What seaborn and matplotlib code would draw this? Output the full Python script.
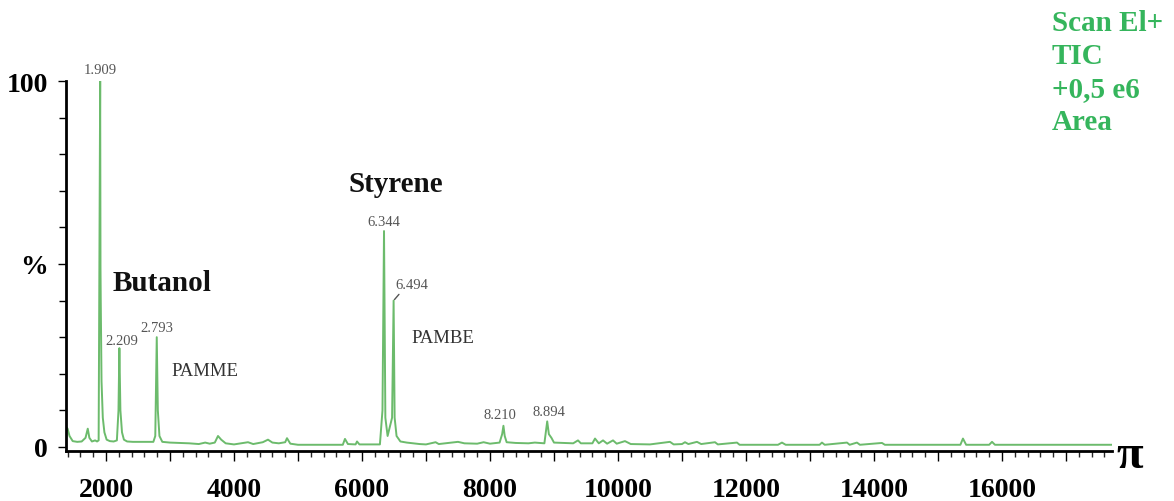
import matplotlib
matplotlib.use("Agg")
import matplotlib.pyplot as plt
from matplotlib.ticker import MultipleLocator, FixedLocator, FuncFormatter
import numpy as np
import pandas as pd
import seaborn as sns

# Total ion chromatogram: retention time (scan axis) and relative abundance, %
scan_times = [
    1375, 1400, 1430, 1480, 1550, 1620, 1680, 1715, 1740, 1780, 1830, 1860, 1885,
    1909, 1914, 1918, 1930, 1950, 1975, 2010, 2060, 2120, 2170, 2195,
    2209, 2225, 2250, 2280, 2330, 2420, 2600, 2740, 2770,
    2793, 2810, 2835, 2880, 3000, 3300, 3450, 3550, 3620, 3700, 3750, 3800,
    3870, 4000, 4219, 4300, 4450, 4531, 4600, 4700, 4800, 4828, 4880, 5000,
    5700, 5734, 5780, 5900, 5922, 5960, 6280, 6320,
    6344, 6365, 6400, 6470, 6494, 6510, 6540, 6600, 6700, 6900, 7000, 7150,
    7200, 7500, 7600, 7800, 7900, 8000, 8150, 8190,
    8210, 8230, 8260, 8400, 8600, 8700, 8850, 8880,
    8894, 8920, 8960, 9000, 9150, 9300, 9375, 9420, 9600, 9641, 9700, 9766,
    9830, 9922, 9980, 10109, 10200, 10500, 10812, 10870, 11000, 11047, 11100,
    11234, 11300, 11516, 11560, 11859, 11900, 12500, 12562, 12620, 13150,
    13187, 13230, 13578, 13620, 13734, 13780, 14125, 14170, 15350, 15390,
    15440, 15800, 15844, 15890, 17719,
]
abundance = [
    5.5, 5.0, 3.0, 1.6, 1.4, 1.5, 2.5, 5.0, 2.5, 1.5, 1.8, 1.5, 1.8,
    100.0, 49.0, 40.0, 18.0, 8.0, 4.0, 2.0, 1.6, 1.5, 1.8, 10.0,
    27.0, 10.0, 4.0, 2.0, 1.5, 1.4, 1.4, 1.4, 3.0,
    30.0, 10.0, 3.0, 1.4, 1.2, 1.0, 0.8, 1.2, 0.9, 1.2, 3.0, 2.0,
    1.0, 0.7, 1.3, 0.8, 1.3, 2.0, 1.2, 1.0, 1.3, 2.4, 0.9, 0.6,
    0.6, 2.2, 0.8, 0.7, 1.5, 0.7, 0.7, 10.0,
    59.0, 8.0, 3.0, 8.0, 40.0, 8.0, 3.0, 1.5, 1.2, 0.8, 0.7, 1.3,
    0.8, 1.4, 1.0, 0.9, 1.3, 0.9, 1.2, 3.5,
    5.8, 3.0, 1.3, 1.1, 1.0, 1.2, 1.0, 5.0,
    7.0, 3.5, 2.5, 1.2, 1.1, 1.0, 1.8, 1.0, 1.0, 2.3, 1.0, 1.8,
    0.9, 1.8, 0.9, 1.6, 0.8, 0.7, 1.4, 0.7, 0.8, 1.3, 0.8,
    1.4, 0.8, 1.3, 0.7, 1.2, 0.6, 0.6, 1.2, 0.6, 0.6,
    1.2, 0.6, 1.2, 0.6, 1.2, 0.6, 1.1, 0.6, 0.6, 2.3,
    0.6, 0.6, 1.4, 0.6, 0.6,
]

# Labelled peaks (retention times)
peak_times = [1909, 2209, 2793, 6344, 6494, 8210, 8894]
# label offsets in pixels (dx, dy) from the peak apex
peak_offsets = [(0, 12), (2, 8), (0, 10), (0, 10), (18, 16), (-3, 11), (2, 10)]

# Compound names: text, x, y (data units)
compound_names = ["Butanol", "Styrene"]
compound_x = [2880, 6530]
compound_y = [45, 72]
fraction_names = ["PAMME", "PAMBE"]
fraction_x = [3550, 7270]
fraction_y = [21, 30]

x_tick_labels = [2000, 4000, 6000, 8000, 10000, 12000, 14000, 16000]
info_lines = ["Scan El+", "TIC", "+0,5 e6", "Area"]

LINE_GREEN = "#6cbb6c"
TEXT_GREEN = "#35b55c"
SERIF = ["Liberation Serif", "DejaVu Serif"]

sns.set_style("ticks")
plt.rcParams["font.family"] = SERIF

fig = plt.figure(figsize=(11.74, 5.02), dpi=100)
ax = fig.add_axes([66 / 1174, 50 / 502, (1112 - 66) / 1174, (452 - 82) / 502])

df = pd.DataFrame({"time": scan_times, "pct": abundance})
sns.lineplot(data=df, x="time", y="pct", color=LINE_GREEN, linewidth=1.4,
             estimator=None, sort=False, ax=ax)

ax.set_xlim(1375, 17719)
ax.set_ylim(-1.1, 100)
ax.set_xlabel("")
ax.set_ylabel("")

for side in ("top", "right"):
    ax.spines[side].set_visible(False)
for side in ("left", "bottom"):
    ax.spines[side].set_linewidth(2)
    ax.spines[side].set_color("black")

# y axis: 0, % and 100 with minor ticks every 10
ax.yaxis.set_major_locator(FixedLocator([0, 50, 100]))
ax.set_yticklabels(["0", "%", "100"])
ax.yaxis.set_minor_locator(MultipleLocator(10))
ax.tick_params(axis="y", which="both", direction="out", length=5, width=1,
               pad=7, labelsize=20, colors="black")
ax.tick_params(axis="y", which="major", length=6)

# x axis: ticks every 1000, labels every 2000, minor every 200
ax.xaxis.set_major_locator(MultipleLocator(1000))
ax.xaxis.set_minor_locator(MultipleLocator(200))
ax.xaxis.set_major_formatter(
    FuncFormatter(lambda v, p: f"{int(v)}" if int(round(v)) in x_tick_labels else ""))
ax.tick_params(axis="x", which="major", direction="out", length=7, width=1,
               pad=12, labelsize=20, colors="black")
ax.tick_params(axis="x", which="minor", direction="out", length=4, width=1)
for lab in ax.get_xticklabels() + ax.get_yticklabels():
    lab.set_fontweight("bold")

# peak retention-time labels
lookup = dict(zip(scan_times, abundance))
for t, (dx, dy) in zip(peak_times, peak_offsets):
    h = lookup[t]
    arrow = dict(arrowstyle="-", color="#555555", lw=1.0, relpos=(0.2, 0.0),
                 shrinkA=0, shrinkB=1) if dx > 10 else None
    ax.annotate(f"{t / 1000:.3f}", xy=(t, h), xytext=(dx, dy),
                textcoords="offset pixels", ha="center", va="center",
                fontsize=10.5, color="#555555", annotation_clip=False,
                arrowprops=arrow)

for name, x, y in zip(compound_names, compound_x, compound_y):
    ax.text(x, y, name, fontsize=21, fontweight="bold", color="#111111",
            ha="center", va="center")
for name, x, y in zip(fraction_names, fraction_x, fraction_y):
    ax.text(x, y, name, fontsize=13.5, color="#333333", ha="center", va="center")

# acquisition info block and axis symbol
fig.text(1052 / 1174, 1 - 10 / 502, "\n".join(info_lines), fontsize=21,
         fontweight="bold", color=TEXT_GREEN, ha="left", va="top",
         linespacing=1.29)
fig.text(1130 / 1174, 1 - 456 / 502, "π", fontsize=35, fontweight="bold",
         color="black", ha="center", va="center")

fig.savefig("out.png", dpi=100)
